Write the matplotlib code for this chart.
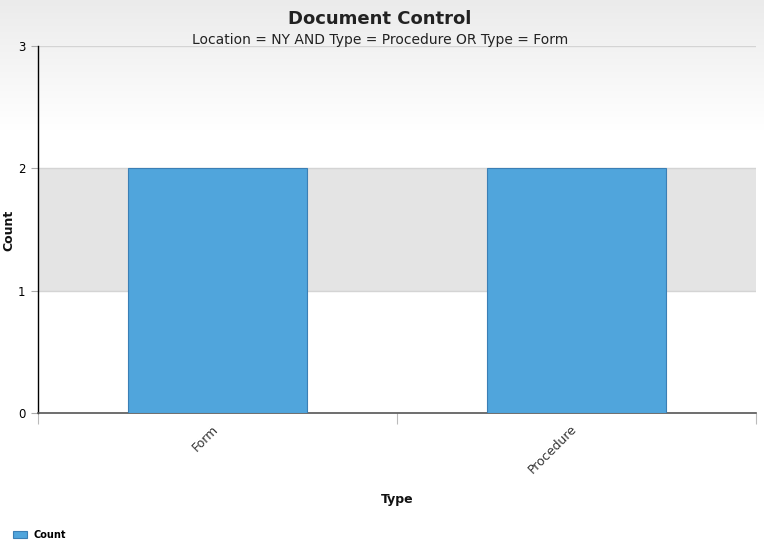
import matplotlib

matplotlib.use("Agg")

import matplotlib.pyplot as plt
import matplotlib.transforms as mtransforms
import numpy as np

categories = ["Form", "Procedure"]
counts = [2, 2]
y_ticks = [0, 1, 2, 3]

title = "Document Control"
subtitle = "Location = NY AND Type = Procedure OR Type = Form"

bar_color = "#50a5dc"
edge_color = "#3b7fb5"

W, H = 764, 560
fig = plt.figure(figsize=(W / 100, H / 100), dpi=100)

# background gradient: light gray at top fading to white
bg = fig.add_axes([0, 0, 1, 1], zorder=-10)
grad = np.linspace(0, 1, H)
shade = np.clip(0.922 + (1 - 0.922) * grad / (130 / H), 0.922, 1.0)
img = np.dstack([shade, shade, shade]).reshape(H, 1, 3)
bg.imshow(img, aspect="auto", extent=[0, 1, 0, 1], origin="upper")
bg.set_axis_off()

ax = fig.add_axes([38 / W, 1 - 413 / H, (756 - 38) / W, (413 - 46) / H])
ax.patch.set_alpha(0)

x = np.arange(len(categories))

# alternate bands between ticks
for i in range(len(y_ticks) - 1):
    if i % 2 == 1:
        ax.axhspan(y_ticks[i], y_ticks[i + 1], color="#e4e4e4", zorder=0, lw=0)
    elif i == 0:
        ax.axhspan(y_ticks[i], y_ticks[i + 1], color="white", zorder=0, lw=0)
for t in y_ticks[1:]:
    ax.axhline(t, color="#d4d4d4", lw=1, zorder=1)

ax.bar(x, counts, width=0.5, color=bar_color, edgecolor=edge_color,
       linewidth=0.8, zorder=3, label="Count")

ax.set_xlim(-0.5, len(categories) - 0.5)
ax.set_ylim(y_ticks[0], y_ticks[-1])
ax.set_yticks(y_ticks)
ax.set_yticklabels([str(t) for t in y_ticks], fontsize=8.5)
ax.tick_params(axis="y", length=5, color="#aaaaaa", pad=4)

# category boundaries as major ticks, labels on minor ticks
ax.set_xticks(np.arange(-0.5, len(categories), 1.0))
ax.set_xticklabels([])
ax.tick_params(axis="x", which="major", length=8, color="#bbbbbb")
ax.set_xticks(x, minor=True)
ax.set_xticklabels(categories, minor=True, rotation=45, ha="right",
                   rotation_mode="anchor", fontsize=9, color="#333333")
ax.tick_params(axis="x", which="minor", length=0, pad=7)
shift = mtransforms.ScaledTranslation(-6 / 100, 0, fig.dpi_scale_trans)
for lbl in ax.get_xticklabels(minor=True):
    lbl.set_transform(lbl.get_transform() + shift)

for side in ["top", "right"]:
    ax.spines[side].set_visible(False)
ax.spines["left"].set_color("black")
ax.spines["left"].set_linewidth(1)
ax.spines["bottom"].set_color("#555555")
ax.spines["bottom"].set_linewidth(1.2)

fig.text(397 / W, 1 - 499 / H, "Type", ha="center", va="center",
         fontsize=9, fontweight="bold", color="#111111")
fig.text(9 / W, 1 - 230 / H, "Count", ha="center", va="center",
         rotation=90, fontsize=9, fontweight="bold", color="#111111")

fig.text(380 / W, 1 - 19 / H, title, ha="center", va="center",
         fontsize=13, fontweight="bold", color="#222222")
fig.text(380 / W, 1 - 40 / H, subtitle, ha="center", va="center",
         fontsize=10, color="#222222")

fig.legend(loc="center left", bbox_to_anchor=(4 / W, 1 - 535 / H), frameon=False,
           prop={"weight": "bold", "size": 7},
           handlelength=1.5, handleheight=0.8, handletextpad=0.6)

fig.savefig("out.png", dpi=100)
